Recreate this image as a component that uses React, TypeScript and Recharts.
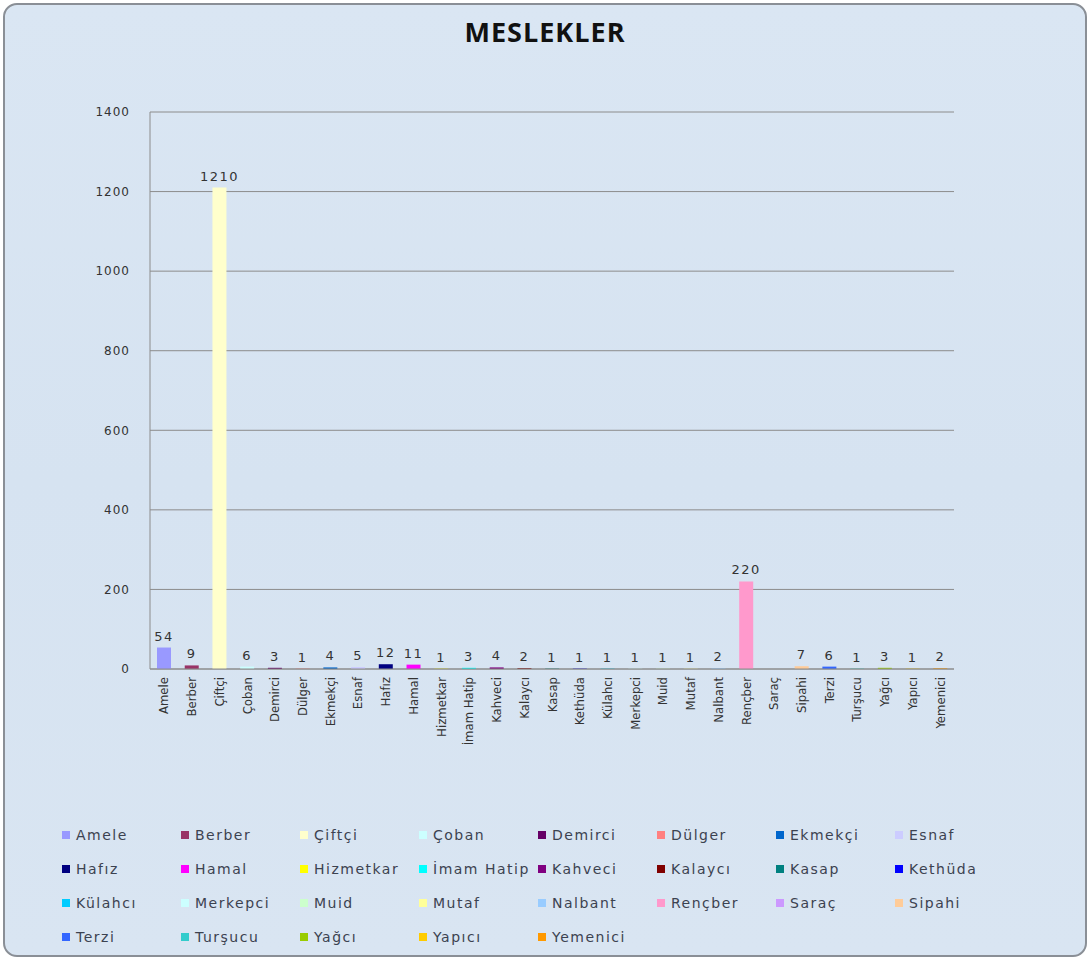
import React from 'react';
import { BarChart, Bar, XAxis, YAxis, CartesianGrid, Cell, LabelList } from 'recharts';

const categories = [
  'Amele', 'Berber', 'Çiftçi', 'Çoban', 'Demirci', 'Dülger', 'Ekmekçi', 'Esnaf',
  'Hafız', 'Hamal', 'Hizmetkar', 'İmam Hatip', 'Kahveci', 'Kalaycı', 'Kasap', 'Kethüda',
  'Külahcı', 'Merkepci', 'Muid', 'Mutaf', 'Nalbant', 'Rençber', 'Saraç', 'Sipahi',
  'Terzi', 'Turşucu', 'Yağcı', 'Yapıcı', 'Yemenici',
];

const counts: (number | null)[] = [
  54, 9, 1210, 6, 3, 1, 4, 5,
  12, 11, 1, 3, 4, 2, 1, 1,
  1, 1, 1, 1, 2, 220, null, 7,
  6, 1, 3, 1, 2,
];

const colors = [
  '#9999FF', '#993366', '#FFFFCC', '#CCFFFF', '#660066', '#FF8080', '#0066CC', '#CCCCFF',
  '#000080', '#FF00FF', '#FFFF00', '#00FFFF', '#800080', '#800000', '#008080', '#0000FF',
  '#00CCFF', '#CCFFFF', '#CCFFCC', '#FFFF99', '#99CCFF', '#FF99CC', '#CC99FF', '#FFCC99',
  '#3366FF', '#33CCCC', '#99CC00', '#FFCC00', '#FF9900',
];

const yTicks = [0, 200, 400, 600, 800, 1000, 1200, 1400];

const title = 'MESLEKLER';

const data = categories.map((name, i) => ({ name, value: counts[i] }));

const XTick = (props: any) => {
  const { x, y, payload } = props;
  return (
    <g transform={`translate(${x},${y})`}>
      <text
        transform="rotate(-90)"
        x={-2}
        y={0}
        dy={4.5}
        textAnchor="end"
        fill="#333"
        fontSize={13}
        fontFamily="'Liberation Sans Narrow', 'DejaVu Sans Condensed', 'Arial Narrow', sans-serif"
      >
        {payload.value}
      </text>
    </g>
  );
};

const legendFont = "'DejaVu Sans', Verdana, sans-serif";

export default function App() {
  return (
    <div style={{ position: 'absolute', left: 0, top: 0, width: 1090, height: 960 }}>
      <div
        style={{
          position: 'absolute',
          left: 3,
          top: 3,
          width: 1084,
          height: 954,
          boxSizing: 'border-box',
          border: '2px solid #8a8f96',
          borderRadius: 14,
          background: 'linear-gradient(180deg, #dae6f3 0%, #d6e3f1 50%, #d9e5f2 100%)',
        }}
      />
      <div
        style={{
          position: 'absolute',
          left: 0,
          top: 13,
          width: 1090,
          textAlign: 'center',
          fontFamily: "'Open Sans', sans-serif",
          fontWeight: 700,
          fontSize: 27,
          letterSpacing: 1,
          color: '#111',
        }}
      >
        {title}
      </div>
      <div style={{ position: 'absolute', left: 0, top: 0 }}>
        <BarChart
          width={1090}
          height={800}
          data={data}
          margin={{ top: 112, right: 136, bottom: 31, left: 90 }}
          barSize={14}
        >
          <CartesianGrid vertical={false} stroke="#8c8c8c" strokeWidth={1} />
          <YAxis
            domain={[0, 1400]}
            ticks={yTicks}
            width={60}
            tickLine={false}
            tickSize={0}
            tickMargin={20}
            axisLine={{ stroke: '#8c8c8c' }}
            tick={{ fill: '#333', fontSize: 12, fontFamily: legendFont, letterSpacing: 1 }}
            interval={0}
          />
          <XAxis
            dataKey="name"
            interval={0}
            height={100}
            tickLine={false}
            tickSize={0}
            tickMargin={6}
            axisLine={{ stroke: '#8c8c8c' }}
            tick={<XTick />}
          />
          <Bar dataKey="value" isAnimationActive={false}>
            {data.map((d, i) => (
              <Cell key={d.name} fill={colors[i]} />
            ))}
            <LabelList
              dataKey="value"
              position="top"
              offset={7}
              formatter={(v: any) => (v === null || v === undefined ? '' : String(v))}
              style={{ fill: '#333', fontSize: 13, fontFamily: legendFont, letterSpacing: 1.5 }}
            />
          </Bar>
        </BarChart>
      </div>
      {categories.map((name, i) => {
        const col = i % 8;
        const row = Math.floor(i / 8);
        return (
          <div
            key={name}
            style={{
              position: 'absolute',
              left: 62 + col * 119,
              top: 826 + row * 34,
              height: 18,
              display: 'flex',
              alignItems: 'center',
              whiteSpace: 'nowrap',
            }}
          >
            <span
              style={{
                display: 'inline-block',
                width: 8,
                height: 8,
                background: colors[i],
                marginRight: 6,
              }}
            />
            <span
              style={{
                fontFamily: legendFont,
                fontSize: 14,
                letterSpacing: 1.5,
                color: '#3c4250',
              }}
            >
              {name}
            </span>
          </div>
        );
      })}
    </div>
  );
}
